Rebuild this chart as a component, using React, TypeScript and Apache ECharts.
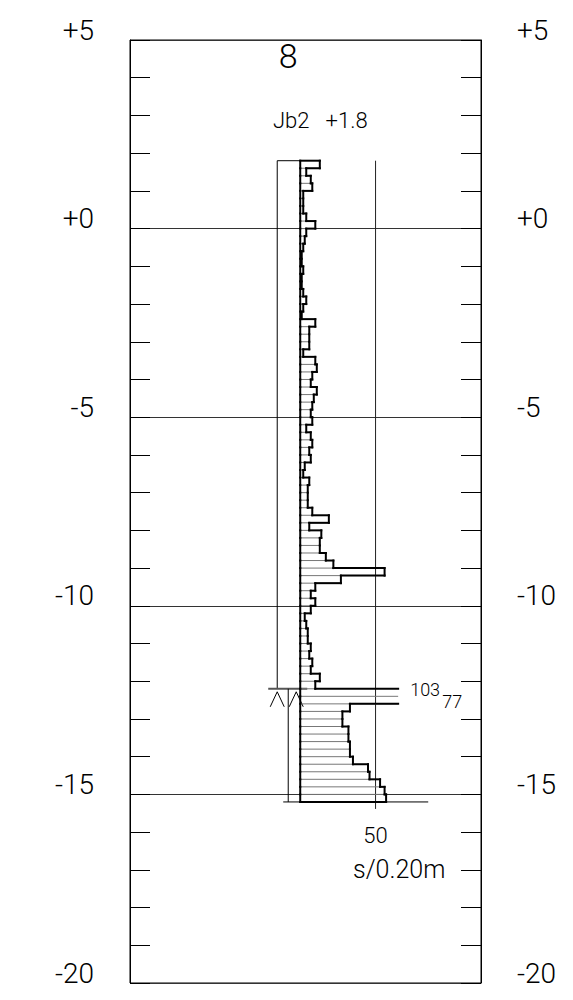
import React, { useEffect, useRef } from "react";
import * as echarts from "echarts";

// Sounding Jb2 – blows per 0.20 m, starting at level +1.8
const TOP_LEVEL = 1.8;
const STEP = 0.2;
const PREDRILL_LEVEL = -12.2;
const CAP = 65; // bars above this are cut and labelled

const blowsAboveZero = [13, 4, 7, 8, 2, 2, 2, 4, 10];
const blowsZeroToMinus5 = [4, 3, 2, 1, 1, 2, 1, 1, 2, 4, 2, 1, 10, 6, 6, 6, 2, 10, 11, 8, 7, 11, 9, 8, 7];
const blowsMinus5To10 = [8, 4, 7, 8, 6, 7, 3, 2, 6, 5, 5, 5, 8, 19, 6, 14, 13, 13, 17, 22, 56, 27, 10, 7, 10];
const blowsMinus10To12 = [7, 3, 4, 5, 5, 7, 6, 8, 7, 13, 10];
const blowsPeak = [103, 77];
const blowsMinus12To15 = [33, 28, 28, 32, 32, 33, 33, 35, 45, 46, 53, 56, 57];

const levelTicks = [5, 0, -5, -10, -15, -20];
const scaleRef = 50;
const probeNo = "8";
const probeName = "Jb2";
const unitLabel = "s/0.20m";

const FONT = "Roboto, 'Liberation Sans', sans-serif";
const FW = 300;

const blows = [
  ...blowsAboveZero,
  ...blowsZeroToMinus5,
  ...blowsMinus5To10,
  ...blowsMinus10To12,
  ...blowsPeak,
  ...blowsMinus12To15,
];
const rows = blows.map((v, i) => [
  Math.round((TOP_LEVEL - STEP * i) * 100) / 100,
  Math.round((TOP_LEVEL - STEP * (i + 1)) * 100) / 100,
  v,
]);
const END_LEVEL = rows[rows.length - 1][1];

const fmtLevel = (v: number) => {
  if (levelTicks.indexOf(v) < 0) return "";
  if (v > 0) return "+" + v;
  if (v === 0) return "+0";
  return String(v);
};

const yAxis = (position: "left" | "right") => ({
  type: "value",
  min: -20,
  max: 5,
  interval: 5,
  position,
  axisLine: { show: true, onZero: false, lineStyle: { color: "#000", width: 1 } },
  axisTick: { show: true, inside: true, length: 20, lineStyle: { color: "#000" } },
  minorTick: { show: true, splitNumber: 5, length: 20, lineStyle: { color: "#000" } },
  splitLine: { show: position === "left", lineStyle: { color: "#333", width: 1 } },
  axisLabel: {
    show: true,
    margin: 36,
    fontSize: 28,
    fontFamily: FONT,
    fontWeight: FW,
    color: "#000",
    verticalAlign: "bottom",
    lineHeight: 20,
    showMinLabel: true,
    showMaxLabel: true,
    formatter: fmtLevel,
  },
});

export default function App() {
  const ref = useRef<HTMLDivElement>(null);
  useEffect(() => {
    if (!ref.current) return;
    const chart = echarts.init(ref.current, null, { renderer: "svg" });
    const option: any = {
      animation: false,
      backgroundColor: "#fff",
      grid: { left: 130, right: 92, top: 40, bottom: 17, show: true, borderColor: "#000", borderWidth: 1 },
      xAxis: { type: "value", min: -113, max: 120, show: false },
      yAxis: [yAxis("left"), yAxis("right")],
      series: [
        {
          type: "custom",
          coordinateSystem: "cartesian2d",
          encode: { x: 2, y: [0, 1] },
          clip: false,
          data: rows,
          renderItem: (params: any, api: any) => {
            const i = params.dataIndex;
            const top = api.value(0);
            const bot = api.value(1);
            const v = api.value(2);
            const w = Math.min(v, CAP);
            const prev = i > 0 ? Math.min(blows[i - 1], CAP) : 0;
            const [x0, y0] = api.coord([0, top]);
            const [x1, y1] = api.coord([w, bot]);
            const xp = api.coord([prev, top])[0];
            const thick = { stroke: "#000", lineWidth: 2, lineCap: "square" };
            const children: any[] = [
              { type: "line", shape: { x1: x0, y1: y1, x2: x1, y2: y1 }, style: { stroke: "#777", lineWidth: 1 } },
              { type: "line", shape: { x1: x0, y1: y0, x2: x0, y2: y1 }, style: thick },
            ];
            if (Math.abs(xp - x1) > 0.1)
              children.push({ type: "line", shape: { x1: xp, y1: y0, x2: x1, y2: y0 }, style: thick });
            if (v <= CAP)
              children.push({ type: "line", shape: { x1: x1, y1: y0, x2: x1, y2: y1 }, style: thick });
            if (i === blows.length - 1)
              children.push({ type: "line", shape: { x1: x0, y1: y1, x2: x1, y2: y1 }, style: thick });
            if (v > CAP) {
              const k = blowsPeak.indexOf(v);
              children.push({
                type: "text",
                style: {
                  text: String(v),
                  x: x1 + 12 + 32 * k,
                  y: (y0 + y1) / 2 + (k === 0 ? -3 : 1),
                  align: "left",
                  verticalAlign: "middle",
                  fontSize: 18,
                  fontFamily: FONT,
                  fontWeight: FW,
                  fill: "#000",
                },
              });
            }
            return { type: "group", children };
          },
        },
      ],
    };
    chart.setOption(option);

    const P = (x: number, y: number) => chart.convertToPixel({ seriesIndex: 0 }, [x, y]) as number[];
    const [bx, yTop] = P(0, TOP_LEVEL);
    const yPre = P(0, PREDRILL_LEVEL)[1];
    const yEnd = P(0, END_LEVEL)[1];
    const x50 = P(scaleRef, 0)[0];
    const thin = { stroke: "#000", lineWidth: 1 };
    const boxX = bx - 23;
    const rodX = bx - 12;
    const chevron = (cx: number) => ({
      type: "polyline",
      shape: { points: [[cx - 7, yPre + 18], [cx, yPre + 3], [cx + 7, yPre + 18]] },
      style: { stroke: "#000", lineWidth: 1, fill: "none" },
    });
    const txt = (text: string, x: number, y: number, size: number, align: string) => ({
      type: "text",
      style: { text, x, y, align, verticalAlign: "middle", fontSize: size, fontFamily: FONT, fontWeight: FW, fill: "#000" },
    });
    chart.setOption({
      graphic: [
        { type: "polyline", shape: { points: [[boxX, yPre], [boxX, yTop], [bx, yTop]] }, style: { ...thin, fill: "none" } },
        { type: "line", shape: { x1: bx - 32, y1: yPre, x2: bx + 7, y2: yPre }, style: { stroke: "#555", lineWidth: 2 } },
        { type: "line", shape: { x1: rodX, y1: yPre, x2: rodX, y2: yEnd }, style: thin },
        chevron(boxX),
        chevron(bx - 4),
        { type: "line", shape: { x1: bx - 17, y1: yEnd, x2: bx + 128, y2: yEnd }, style: thin },
        { type: "line", shape: { x1: x50, y1: yTop, x2: x50, y2: yEnd + 7 }, style: { stroke: "#222", lineWidth: 1 } },
        txt(probeNo, rodX, 56, 34, "center"),
        txt(probeName + "   +" + TOP_LEVEL, 273, 120, 22, "left"),
        txt(String(scaleRef), x50, 835, 22, "center"),
        txt(unitLabel, 353, 869, 25, "left"),
      ],
    });
    return () => chart.dispose();
  }, []);
  return (
    <div
      ref={ref}
      style={{ position: "absolute", left: 0, top: 0, width: 573, height: 1000, background: "#fff" }}
    />
  );
}
